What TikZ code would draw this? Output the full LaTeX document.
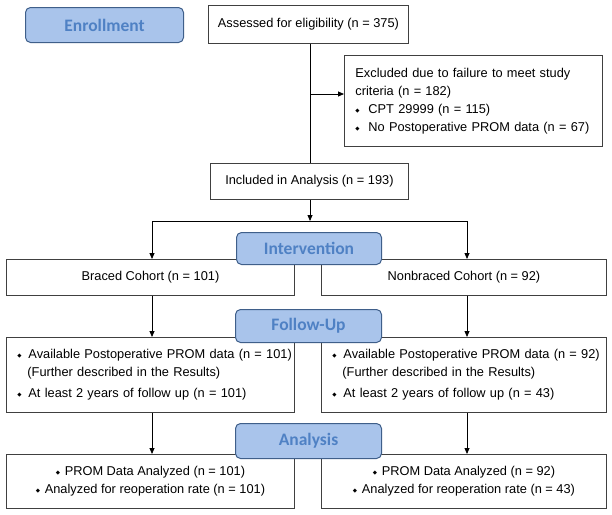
\documentclass[tikz,border=0pt]{standalone}
\usepackage{fontspec}
\setmainfont{Liberation Sans}
\newfontfamily\labfont{Carlito}
\newfontfamily\djv{DejaVu Sans}
\usetikzlibrary{arrows.meta}
\definecolor{labfill}{HTML}{A9C4EB}
\definecolor{labdraw}{HTML}{3F5F8A}
\definecolor{labtext}{HTML}{4F81C4}
\definecolor{boxdraw}{HTML}{404040}
\newcommand{\dmd}{\raisebox{1.2pt}{\djv\fontsize{5.5}{6}\selectfont ◆}}
\newcommand{\bulA}{\makebox[11pt][l]{\dmd}}
\newcommand{\bulB}{\makebox[13pt][l]{\dmd}}
\newcommand{\bulC}{\makebox[9pt][l]{\dmd}}
\newcommand{\indA}{\makebox[10pt][l]{}}
\newcommand{\bodyfont}{\fontsize{12.8}{18}\selectfont}
\begin{document}
\begin{tikzpicture}[x=1pt,y=-1pt,
  box/.style={draw=boxdraw, line width=0.9pt, anchor=north west, inner sep=0pt, fill=white, font=\bodyfont},
  lab/.style={draw=labdraw, line width=1pt, fill=labfill, rounded corners=5pt, anchor=north west, inner sep=0pt, text=labtext, font=\labfont\bfseries\fontsize{17.5}{20}\selectfont},
  arr/.style={line width=0.8pt, -{Triangle[length=6pt,width=5pt]}},
  conn/.style={line width=0.8pt}]
\fill[white] (0,0) rectangle (612,514);
\useasboundingbox (0,0) rectangle (612,514);
\coordinate (spine) at (310,0);
\coordinate (branch) at (310,94);
\coordinate (split) at (310,221);
\coordinate (hl) at (152,221);
\coordinate (hr) at (467,221);

\node[lab, minimum width=158pt, minimum height=35pt] (enroll) at (25,7) {Enrollment};
\node[box, minimum width=200pt, minimum height=38pt] (assess) at (208,5) {Assessed for eligibility (n = 375)};
\node[box, minimum width=258pt, minimum height=91pt, text width=236pt, inner xsep=11pt, align=left] (excl) at (344,55)
  {\mbox{Excluded due to failure to meet study}\\
   \mbox{criteria (n = 182)}\\
   \mbox{\bulB CPT 29999 (n = 115)}\\
   \mbox{\bulB No Postoperative PROM data (n = 67)}};
\node[box, minimum width=198pt, minimum height=36pt] (incl) at (210,163) {Included in Analysis (n = 193)};
\node[box, minimum width=288pt, minimum height=36pt] (braced) at (6,259) {Braced Cohort (n = 101)};
\node[box, minimum width=285pt, minimum height=36pt] (nonbraced) at (321,259) {Nonbraced Cohort (n = 92)};
\node[box, minimum width=288pt, minimum height=75pt, text width=266pt, inner xsep=11pt, align=left] (fuL) at (6,337)
  {\mbox{\bulA Available Postoperative PROM data (n = 101)}\\
   \mbox{\indA(Further described in the Results)}\\[3pt]
   \mbox{\bulA At least 2 years of follow up (n = 101)}};
\node[box, minimum width=285pt, minimum height=75pt, text width=263pt, inner xsep=11pt, align=left] (fuR) at (321,337)
  {\mbox{\bulA Available Postoperative PROM data (n = 92)}\\
   \mbox{\indA(Further described in the Results)}\\[3pt]
   \mbox{\bulA At least 2 years of follow up (n = 43)}};
\node[box, minimum width=288pt, minimum height=54pt, align=center] (anL) at (6,454)
  {\bulC PROM Data Analyzed (n = 101)\\ \bulC Analyzed for reoperation rate (n = 101)};
\node[box, minimum width=285pt, minimum height=54pt, align=center] (anR) at (321,454)
  {\bulC PROM Data Analyzed (n = 92)\\ \bulC Analyzed for reoperation rate (n = 43)};

\draw[conn] (assess.south -| spine) -- (incl.north -| spine);
\draw[arr] (branch) -- (branch -| excl.west);
\draw[arr] (incl.south -| spine) -- (split);
\draw[conn] (hl) -- (hr);
\draw[arr] (hl) -- (hl |- braced.north);
\draw[arr] (hr) -- (hr |- nonbraced.north);
\draw[arr] (braced.south -| hl) -- (fuL.north -| hl);
\draw[arr] (nonbraced.south -| hr) -- (fuR.north -| hr);
\draw[arr] (fuL.south -| hl) -- (anL.north -| hl);
\draw[arr] (fuR.south -| hr) -- (anR.north -| hr);

\node[lab, minimum width=145pt, minimum height=32pt] (interv) at (236,232) {Intervention};
\node[lab, minimum width=146pt, minimum height=33pt] (follow) at (235,309) {Follow-Up};
\node[lab, minimum width=146pt, minimum height=35pt] (analysis) at (235,423) {Analysis};
\end{tikzpicture}
\end{document}
